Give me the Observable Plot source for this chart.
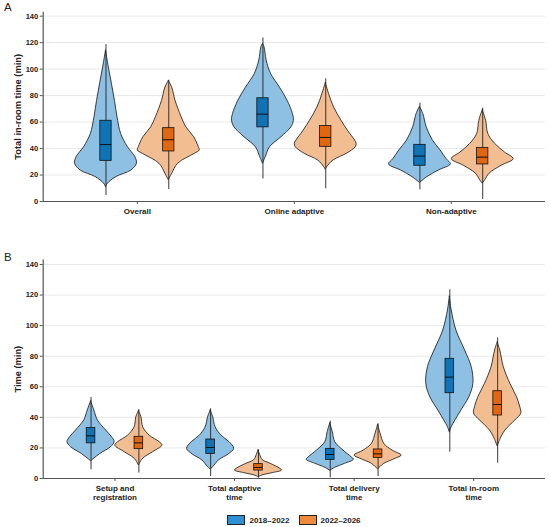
<!DOCTYPE html>
<html>
<head>
<meta charset="utf-8">
<script src="https://cdn.jsdelivr.net/npm/d3@7"></script>
<script src="https://cdn.jsdelivr.net/npm/@observablehq/plot@0.6"></script>
<style>
  body { margin: 0; background: #fff; font-family: "Liberation Sans", Arial, sans-serif; }
  #wrap { position: relative; width: 550px; height: 527px; overflow: hidden; }
  .panel { position: absolute; left: 0; }
  .plabel { position: absolute; left: 4px; font-size: 11.5px; line-height: 12px; color: #222; z-index: 3; }
  #legend { position: absolute; left: 43px; width: 502px; top: 511px; height: 18px; display: flex; justify-content: center; align-items: center; gap: 9px; font-size: 8px; font-weight: bold; color: #222; }
  .item { display: flex; align-items: center; gap: 4px; }
  .sw { width: 16px; height: 8px; border: 0.8px solid #222; }
</style>
</head>
<body>
<div id="wrap">
  <div id="panelA" class="panel" style="top:0px"></div>
  <div id="panelB" class="panel" style="top:248px"></div>
  <div class="plabel" style="top:1px">A</div>
  <div class="plabel" style="top:251px">B</div>
  <div id="legend"></div>
</div>
<script>
// ---------------- DATA ----------------
const seriesNames = ["2018–2022", "2022–2026"];
const categoriesA = ["Overall", "Online adaptive", "Non-adaptive"];
const categoriesB = ["Setup and\nregistration", "Total adaptive\ntime", "Total delivery\ntime", "Total in-room\ntime"];
const yTicks = [0, 20, 40, 60, 80, 100, 120, 140];

// Violin profiles: [minutes, relative half-width]
const overall2018 = [[114,0],[101.5,0.09],[89,0.19],[76,0.29],[64,0.37],[51,0.49],[41,0.71],[33.5,0.95],[28.5,1],[23.4,0.82],[18.4,0.33],[13.4,0.06],[10.8,0]];
const overall2022 = [[91,0],[86,0.11],[76,0.22],[64,0.41],[56,0.57],[48.6,0.82],[41,0.97],[38.5,1],[36,0.84],[28.5,0.3],[21,0.11],[16,0]];
const online2018 = [[119,0],[116.6,0.05],[106.5,0.12],[96.5,0.26],[86,0.55],[76,0.8],[66,0.97],[61,1],[56,0.92],[48.6,0.6],[41,0.23],[33.5,0.09],[28.5,0]];
const online2022 = [[89.5,0],[81,0.11],[71,0.27],[61,0.51],[53,0.73],[46,0.95],[43.5,1],[41,0.97],[36,0.68],[31,0.25],[26,0.05],[24,0]];
const nonAdaptive2018 = [[71.5,0],[66,0.11],[56,0.22],[46,0.42],[38.5,0.67],[32,0.86],[28,1],[23.4,0.61],[18.4,0.24],[14,0]];
const nonAdaptive2022 = [[69,0],[61,0.11],[51,0.18],[43.6,0.4],[37,0.72],[32,1],[27,0.61],[21,0.22],[16,0.08],[13.5,0]];

const setup2018 = [[50.5,0],[44.5,0.14],[38,0.29],[31.4,0.64],[27,0.89],[23.8,1],[20.5,0.85],[16,0.39],[12.9,0.13],[11.3,0]];
const setup2022 = [[44,0],[40,0.11],[33.6,0.18],[28,0.46],[23.8,0.88],[21.5,1],[17.2,0.6],[12.9,0.18],[8.5,0]];
const adaptive2018 = [[44.5,0],[40,0.11],[33.6,0.21],[28,0.46],[23.8,0.8],[19.4,1],[15.7,0.76],[11.8,0.35],[7.4,0.11],[5.8,0]];
const adaptive2022 = [[18.3,0],[15.5,0.07],[12,0.18],[9.6,0.52],[6.3,0.93],[5.2,1],[3.5,0.6],[2,0.17],[0.9,0]];
const delivery2018 = [[36,0],[30.3,0.11],[23.8,0.21],[18.3,0.56],[14,0.9],[12.2,1],[9.6,0.63],[7,0.21],[5,0]];
const delivery2022 = [[35,0],[29.2,0.11],[22.7,0.26],[18.3,0.61],[15,1],[12.9,0.75],[9.6,0.26],[7.4,0.1],[6,0]];
const inRoom2018 = [[119,0],[110,0.08],[96.8,0.28],[83.7,0.65],[72.8,0.93],[61.9,1],[53.2,0.83],[44.5,0.49],[38,0.24],[33.6,0.08],[30,0]];
const inRoom2022 = [[89,0],[83.7,0.11],[72.8,0.26],[61.9,0.54],[53.2,0.82],[46.7,0.96],[42.3,1],[38,0.75],[31.4,0.33],[26,0.13],[21,0]];

// Box statistics, order: cat1/2018, cat1/2022, cat2/2018, ...
const whiskerLowA  = [4.5, 9, 17, 9.6, 8.8, 1.5];
const q1A          = [30.7, 37.8, 56, 41.3, 27, 28];
const medianA      = [43, 46.6, 66, 48.4, 34.3, 33.5];
const q3A          = [61, 55.4, 78, 57, 42.8, 40.5];
const whiskerHighA = [118.5, 91.5, 123.5, 92.7, 74.3, 70.5];

const whiskerLowB  = [5.7, 3.5, 1.3, 0.2, 0.4, 1.3, 17.2, 10];
const q1B          = [23, 19.2, 16.1, 5.2, 12.2, 13.5, 55.8, 41.2];
const medianB      = [27.9, 23.3, 20.3, 7.2, 15.7, 16.1, 66.3, 48.4];
const q3B          = [33, 27.3, 25.5, 9.4, 19.4, 19, 78.3, 57.1];
const whiskerHighB = [53, 45, 45.6, 18.7, 37.5, 35.8, 123.4, 92];

// ---------------- STYLE ----------------
const violinFill = ["#8dc0e3", "#f3bd92"];
const boxFill = ["#0f73b6", "#e0660f"];
const legendFill = ["#2f8fd2", "#ee8b3d"];
const dodge = 0.2, violinHalf = 0.197, boxHalf = 0.036;

function buildPanel(categories, profiles, lo, q1, med, q3, hi, title, opts) {
  const violinRows = [];
  const boxRows = [];
  profiles.forEach((prof, k) => {
    const ci = Math.floor(k / 2) + 1;
    const s = k % 2;
    const c = ci + (s === 0 ? -dodge : dodge);
    prof.forEach(([y, w]) => violinRows.push({key: k, s, y, x1: c - violinHalf * w, x2: c + violinHalf * w}));
    boxRows.push({s, c, lo: lo[k], q1: q1[k], med: med[k], q3: q3[k], hi: hi[k]});
  });
  const marks = [
    Plot.gridY(yTicks, {stroke: "#e8e8e8", strokeOpacity: 1, strokeWidth: 1})
  ];
  [0, 1].forEach(s => {
    marks.push(Plot.areaX(violinRows.filter(d => d.s === s), {
      y: "y", x1: "x1", x2: "x2", z: "key", fill: violinFill[s], stroke: "#111",
      strokeWidth: 0.8, curve: "catmull-rom"
    }));
  });
  marks.push(
    Plot.ruleX(boxRows, {x: "c", y1: "lo", y2: "hi", stroke: "#222", strokeWidth: 0.9}),
    Plot.rect(boxRows, {x1: d => d.c - boxHalf, x2: d => d.c + boxHalf, y1: "q1", y2: "q3",
      fill: d => boxFill[d.s], stroke: "#111", strokeWidth: 0.8}),
    Plot.ruleY(boxRows, {y: "med", x1: d => d.c - boxHalf, x2: d => d.c + boxHalf, stroke: "#111", strokeWidth: 1}),
    Plot.ruleX([0.4], {stroke: "#555", strokeWidth: 1.2}),
    Plot.ruleY([0], {stroke: "#555", strokeWidth: 1.2}),
    Plot.axisY({ticks: yTicks, tickSize: 3, tickPadding: 2, label: null, fontSize: 7.5, fontWeight: "bold", stroke: "#555"}),
    Plot.axisX({ticks: d3.range(1, categories.length + 1), tickFormat: i => categories[i - 1],
      tickSize: 3, tickPadding: 3, label: null, fontSize: 8, fontWeight: "bold", lineHeight: 1.15, stroke: "#555"}),
    Plot.text([title], {frameAnchor: "left", dx: -25, rotate: -90, textAnchor: "middle", lineAnchor: "middle",
      fontSize: 9.3, fontWeight: "bold", fill: "#222"})
  );
  return Plot.plot({
    width: 550,
    height: opts.height,
    marginLeft: 42.7,
    marginRight: 5,
    marginTop: opts.marginTop,
    marginBottom: opts.marginBottom,
    style: {fontFamily: "Liberation Sans, Arial, sans-serif", color: "#222", background: "transparent"},
    x: {domain: [0.4, categories.length + 0.6], axis: null},
    y: {domain: [0, 143], axis: null},
    marks
  });
}

const profilesA = [overall2018, overall2022, online2018, online2022, nonAdaptive2018, nonAdaptive2022];
const profilesB = [setup2018, setup2022, adaptive2018, adaptive2022, delivery2018, delivery2022, inRoom2018, inRoom2022];

document.getElementById("panelA").append(
  buildPanel(categoriesA, profilesA, whiskerLowA, q1A, medianA, q3A, whiskerHighA,
    "Total in-room time (min)", {height: 248, marginTop: 11.7, marginBottom: 47}));
document.getElementById("panelB").append(
  buildPanel(categoriesB, profilesB, whiskerLowB, q1B, medianB, q3B, whiskerHighB,
    "Time (min)", {height: 257, marginTop: 11.4, marginBottom: 27}));

const legend = document.getElementById("legend");
seriesNames.forEach((name, s) => {
  const item = document.createElement("div");
  item.className = "item";
  const sw = document.createElement("div");
  sw.className = "sw";
  sw.style.background = legendFill[s];
  const t = document.createElement("span");
  t.textContent = name;
  item.append(sw, t);
  legend.append(item);
});
</script>
</body>
</html>
